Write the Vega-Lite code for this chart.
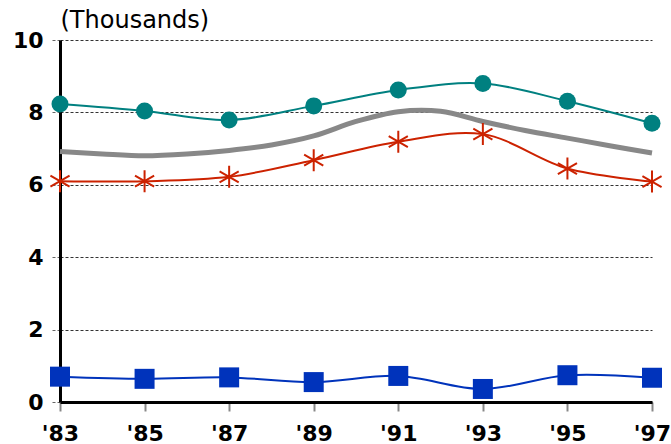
{
  "$schema": "https://vega.github.io/schema/vega-lite/v6.json",
  "width": 592,
  "height": 362,
  "autosize": {"type": "none"},
  "padding": {"left": 60, "top": 40, "right": 19, "bottom": 42},
  "background": "white",
  "config": {"view": {"stroke": null}},
  "datasets": {
    "teal": [
      {"year": 1983, "value": 8.23}, {"year": 1985, "value": 8.04}, {"year": 1987, "value": 7.79},
      {"year": 1989, "value": 8.18}, {"year": 1991, "value": 8.62}, {"year": 1993, "value": 8.8},
      {"year": 1995, "value": 8.31}, {"year": 1997, "value": 7.7}
    ],
    "gray": [
      {"year": 1983, "value": 6.92}, {"year": 1984, "value": 6.85}, {"year": 1985, "value": 6.8},
      {"year": 1986, "value": 6.85}, {"year": 1987, "value": 6.95}, {"year": 1988, "value": 7.1},
      {"year": 1989, "value": 7.35}, {"year": 1990, "value": 7.75}, {"year": 1991, "value": 8.02},
      {"year": 1992, "value": 8.03}, {"year": 1993, "value": 7.75}, {"year": 1994, "value": 7.5},
      {"year": 1995, "value": 7.29}, {"year": 1996, "value": 7.08}, {"year": 1997, "value": 6.88}
    ],
    "red": [
      {"year": 1983, "value": 6.1}, {"year": 1985, "value": 6.1}, {"year": 1987, "value": 6.22},
      {"year": 1989, "value": 6.68}, {"year": 1991, "value": 7.19}, {"year": 1993, "value": 7.4},
      {"year": 1995, "value": 6.45}, {"year": 1997, "value": 6.09}
    ],
    "blue": [
      {"year": 1983, "value": 0.7}, {"year": 1985, "value": 0.64}, {"year": 1987, "value": 0.68},
      {"year": 1989, "value": 0.55}, {"year": 1991, "value": 0.72}, {"year": 1993, "value": 0.36},
      {"year": 1995, "value": 0.74}, {"year": 1997, "value": 0.67}
    ]
  },
  "encoding": {
    "x": {
      "field": "year", "type": "quantitative",
      "scale": {"domain": [1983, 1997], "nice": false, "zero": false},
      "axis": {
        "title": null,
        "values": [1983, 1985, 1987, 1989, 1991, 1993, 1995, 1997],
        "labelExpr": "\"'\" + substring(toString(datum.value), 2, 4)",
        "grid": false,
        "domainColor": "black", "domainWidth": 3,
        "tickColor": "#888888", "tickSize": 9, "tickWidth": 2,
        "labelFont": "DejaVu Sans", "labelFontWeight": "bold", "labelFontSize": 22,
        "labelColor": "black", "labelPadding": 12, "labelOverlap": false, "labelFlush": false
      }
    },
    "y": {
      "field": "value", "type": "quantitative",
      "scale": {"domain": [0, 10], "nice": false},
      "axis": {
        "title": "(Thousands)",
        "titleAngle": 0, "titleAlign": "left", "titleBaseline": "alphabetic",
        "titleX": 0, "titleY": -13,
        "titleFont": "DejaVu Sans", "titleFontSize": 24, "titleFontWeight": "normal", "titleColor": "black",
        "values": [0, 2, 4, 6, 8, 10],
        "grid": true, "gridDash": [3, 2], "gridColor": "#333333", "gridWidth": 1,
        "domainColor": "black", "domainWidth": 3,
        "tickColor": "#666666", "tickSize": 8, "tickDash": [3, 2], "tickWidth": 1,
        "labelFont": "DejaVu Sans", "labelFontWeight": "bold", "labelFontSize": 22,
        "labelColor": "black", "labelPadding": 9
      }
    }
  },
  "layer": [
    {"data": {"name": "gray"}, "mark": {"type": "line", "color": "#888888", "strokeWidth": 5, "interpolate": "catmull-rom"}},
    {"data": {"name": "teal"}, "mark": {"type": "line", "color": "#008080", "strokeWidth": 2, "interpolate": "catmull-rom"}},
    {"data": {"name": "teal"}, "mark": {"type": "point", "shape": "circle", "filled": true, "color": "#008080", "size": 289, "opacity": 1}},
    {"data": {"name": "red"}, "mark": {"type": "line", "color": "#CC2200", "strokeWidth": 2, "interpolate": "catmull-rom"}},
    {"data": {"name": "red"}, "mark": {"type": "point", "shape": "M0,-1L0,1M-0.87,-0.5L0.87,0.5M-0.87,0.5L0.87,-0.5", "filled": false, "color": "#CC2200", "strokeWidth": 2, "size": 484, "opacity": 1}},
    {"data": {"name": "blue"}, "mark": {"type": "line", "color": "#0033BB", "strokeWidth": 2, "interpolate": "catmull-rom"}},
    {"data": {"name": "blue"}, "mark": {"type": "point", "shape": "square", "filled": true, "color": "#0033BB", "size": 400, "opacity": 1}}
  ]
}
